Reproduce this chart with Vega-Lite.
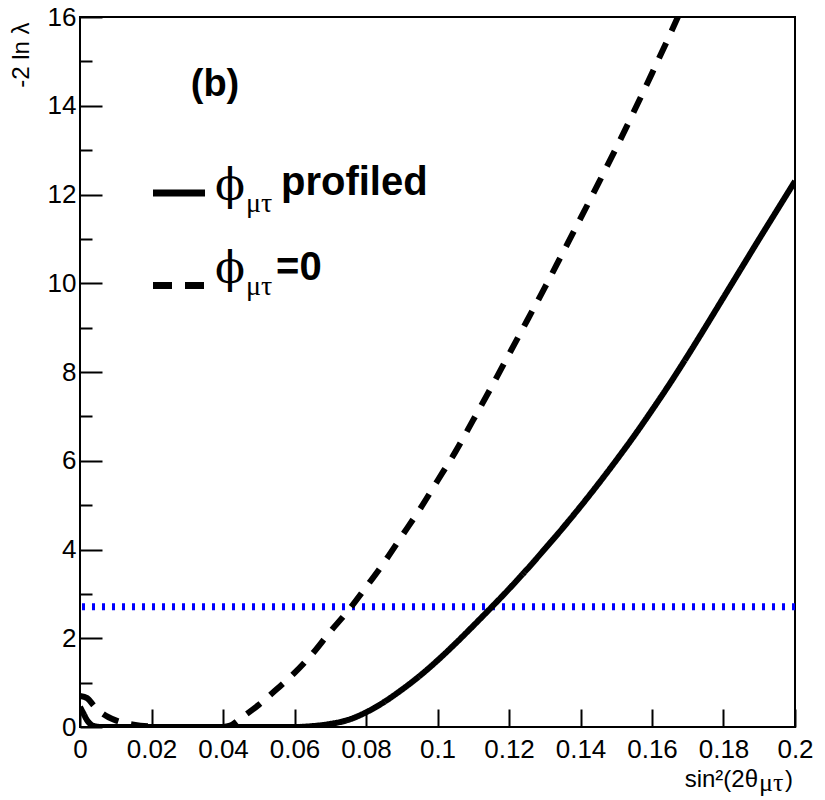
{
  "$schema": "https://vega.github.io/schema/vega-lite/v6.json",
  "width": 715,
  "height": 710,
  "autosize": "none",
  "padding": {"left": 80, "top": 17, "right": 30, "bottom": 73},
  "background": "white",
  "config": {
    "view": {"stroke": "black", "strokeWidth": 2},
    "font": "Liberation Sans",
    "axis": {"labelColor": "black", "tickColor": "black", "domain": false, "grid": false}
  },
  "datasets": {
    "one": [{}],
    "curves": [
      {"x": 0, "y": 0.45, "s": "profiled"},
      {"x": 0.001, "y": 0.3, "s": "profiled"},
      {"x": 0.002, "y": 0.15, "s": "profiled"},
      {"x": 0.003, "y": 0.06, "s": "profiled"},
      {"x": 0.004, "y": 0.02, "s": "profiled"},
      {"x": 0.006, "y": 0, "s": "profiled"},
      {"x": 0.01, "y": 0, "s": "profiled"},
      {"x": 0.02, "y": 0, "s": "profiled"},
      {"x": 0.03, "y": 0, "s": "profiled"},
      {"x": 0.04, "y": 0, "s": "profiled"},
      {"x": 0.05, "y": 0, "s": "profiled"},
      {"x": 0.06, "y": 0, "s": "profiled"},
      {"x": 0.065, "y": 0.02, "s": "profiled"},
      {"x": 0.07, "y": 0.07, "s": "profiled"},
      {"x": 0.075, "y": 0.16, "s": "profiled"},
      {"x": 0.08, "y": 0.33, "s": "profiled"},
      {"x": 0.085, "y": 0.56, "s": "profiled"},
      {"x": 0.09, "y": 0.84, "s": "profiled"},
      {"x": 0.095, "y": 1.15, "s": "profiled"},
      {"x": 0.1, "y": 1.5, "s": "profiled"},
      {"x": 0.105, "y": 1.88, "s": "profiled"},
      {"x": 0.11, "y": 2.28, "s": "profiled"},
      {"x": 0.115, "y": 2.69, "s": "profiled"},
      {"x": 0.12, "y": 3.11, "s": "profiled"},
      {"x": 0.125, "y": 3.55, "s": "profiled"},
      {"x": 0.13, "y": 4.01, "s": "profiled"},
      {"x": 0.135, "y": 4.48, "s": "profiled"},
      {"x": 0.14, "y": 4.97, "s": "profiled"},
      {"x": 0.145, "y": 5.48, "s": "profiled"},
      {"x": 0.15, "y": 6.01, "s": "profiled"},
      {"x": 0.155, "y": 6.56, "s": "profiled"},
      {"x": 0.16, "y": 7.14, "s": "profiled"},
      {"x": 0.165, "y": 7.74, "s": "profiled"},
      {"x": 0.17, "y": 8.37, "s": "profiled"},
      {"x": 0.175, "y": 9.02, "s": "profiled"},
      {"x": 0.18, "y": 9.68, "s": "profiled"},
      {"x": 0.185, "y": 10.34, "s": "profiled"},
      {"x": 0.19, "y": 11.0, "s": "profiled"},
      {"x": 0.195, "y": 11.65, "s": "profiled"},
      {"x": 0.2, "y": 12.3, "s": "profiled"},
      {"x": 0, "y": 0.7, "s": "fixed"},
      {"x": 0.002, "y": 0.65, "s": "fixed"},
      {"x": 0.004, "y": 0.47, "s": "fixed"},
      {"x": 0.006, "y": 0.32, "s": "fixed"},
      {"x": 0.008, "y": 0.22, "s": "fixed"},
      {"x": 0.01, "y": 0.15, "s": "fixed"},
      {"x": 0.012, "y": 0.1, "s": "fixed"},
      {"x": 0.015, "y": 0.05, "s": "fixed"},
      {"x": 0.02, "y": 0.01, "s": "fixed"},
      {"x": 0.025, "y": 0, "s": "fixed"},
      {"x": 0.03, "y": 0, "s": "fixed"},
      {"x": 0.035, "y": 0, "s": "fixed"},
      {"x": 0.04, "y": 0, "s": "fixed"},
      {"x": 0.042, "y": 0.03, "s": "fixed"},
      {"x": 0.045, "y": 0.2, "s": "fixed"},
      {"x": 0.05, "y": 0.5, "s": "fixed"},
      {"x": 0.055, "y": 0.85, "s": "fixed"},
      {"x": 0.06, "y": 1.22, "s": "fixed"},
      {"x": 0.065, "y": 1.65, "s": "fixed"},
      {"x": 0.07, "y": 2.15, "s": "fixed"},
      {"x": 0.075, "y": 2.62, "s": "fixed"},
      {"x": 0.08, "y": 3.15, "s": "fixed"},
      {"x": 0.085, "y": 3.7, "s": "fixed"},
      {"x": 0.09, "y": 4.3, "s": "fixed"},
      {"x": 0.095, "y": 4.9, "s": "fixed"},
      {"x": 0.1, "y": 5.55, "s": "fixed"},
      {"x": 0.105, "y": 6.2, "s": "fixed"},
      {"x": 0.11, "y": 6.92, "s": "fixed"},
      {"x": 0.115, "y": 7.65, "s": "fixed"},
      {"x": 0.12, "y": 8.4, "s": "fixed"},
      {"x": 0.125, "y": 9.15, "s": "fixed"},
      {"x": 0.13, "y": 9.9, "s": "fixed"},
      {"x": 0.135, "y": 10.68, "s": "fixed"},
      {"x": 0.14, "y": 11.46, "s": "fixed"},
      {"x": 0.145, "y": 12.25, "s": "fixed"},
      {"x": 0.15, "y": 13.05, "s": "fixed"},
      {"x": 0.155, "y": 13.88, "s": "fixed"},
      {"x": 0.16, "y": 14.73, "s": "fixed"},
      {"x": 0.165, "y": 15.6, "s": "fixed"},
      {"x": 0.17, "y": 16.5, "s": "fixed"}
    ]
  },
  "layer": [
    {
      "data": {"name": "one"},
      "mark": {"type": "rule", "color": "#0000ff", "strokeWidth": 7, "strokeDash": [3, 7]},
      "encoding": {
        "y": {"datum": 2.71, "type": "quantitative", "scale": {"domain": [0, 16], "nice": false, "zero": false}}
      }
    },
    {
      "data": {"name": "curves"},
      "mark": {"type": "line", "clip": true, "color": "black", "strokeWidth": 6, "interpolate": "monotone"},
      "encoding": {
        "x": {
          "field": "x", "type": "quantitative",
          "scale": {"domain": [0, 0.2], "nice": false, "zero": false},
          "axis": {
            "title": null,
            "values": [0,0.005,0.01,0.015,0.02,0.025,0.03,0.035,0.04,0.045,0.05,0.055,0.06,0.065,0.07,0.075,0.08,0.085,0.09,0.095,0.1,0.105,0.11,0.115,0.12,0.125,0.13,0.135,0.14,0.145,0.15,0.155,0.16,0.165,0.17,0.175,0.18,0.185,0.19,0.195,0.2],
            "tickSize": {"condition": {"test": "abs(datum.value*50 - round(datum.value*50)) < 1e-6", "value": -18}, "value": -9},
            "tickWidth": 2,
            "labelExpr": "abs(datum.value*50 - round(datum.value*50)) < 1e-6 ? format(datum.value, '~g') : ''",
            "labelFont": "Liberation Sans",
            "labelFontSize": 26,
            "labelPadding": 27,
            "labelOverlap": false,
            "labelFlush": false,
            "labelBound": false
          }
        },
        "y": {
          "field": "y", "type": "quantitative",
          "scale": {"domain": [0, 16], "nice": false, "zero": false},
          "axis": {
            "title": "-2 ln λ",
            "titleAnchor": "end",
            "titleY": 5,
            "titleFont": "Liberation Sans",
            "titleFontSize": 24,
            "titleFontWeight": "normal",
            "titleColor": "black",
            "titlePadding": 14,
            "values": [0,0.5,1,1.5,2,2.5,3,3.5,4,4.5,5,5.5,6,6.5,7,7.5,8,8.5,9,9.5,10,10.5,11,11.5,12,12.5,13,13.5,14,14.5,15,15.5,16],
            "tickSize": {"condition": {"test": "datum.value % 2 === 0", "value": -22}, "value": -12},
            "tickWidth": 2,
            "labelExpr": "datum.value % 2 === 0 ? '' + datum.value : ''",
            "labelFont": "Liberation Sans",
            "labelFontSize": 26,
            "labelPadding": 26,
            "labelOverlap": false,
            "labelFlush": false,
            "labelBound": false
          }
        },
        "strokeDash": {
          "field": "s", "type": "nominal",
          "scale": {"domain": ["profiled", "fixed"], "range": [[1, 0], [17, 13]]},
          "legend": null
        }
      }
    },
    {
      "data": {"name": "one"},
      "mark": {"type": "rule", "color": "black", "strokeWidth": 7},
      "encoding": {
        "x": {"datum": 0.02042, "type": "quantitative", "scale": {"domain": [0, 0.2], "nice": false, "zero": false}},
        "x2": {"datum": 0.03497},
        "y": {"datum": 12.034, "type": "quantitative", "scale": {"domain": [0, 16], "nice": false, "zero": false}}
      }
    },
    {
      "data": {"name": "one"},
      "mark": {"type": "rule", "color": "black", "strokeWidth": 7, "strokeDash": [19, 13]},
      "encoding": {
        "x": {"datum": 0.02042, "type": "quantitative", "scale": {"domain": [0, 0.2], "nice": false, "zero": false}},
        "x2": {"datum": 0.0347},
        "y": {"datum": 9.949, "type": "quantitative", "scale": {"domain": [0, 16], "nice": false, "zero": false}}
      }
    },
    {
      "data": {"name": "one"},
      "mark": {"type": "text", "text": "(b)", "font": "Liberation Sans", "fontWeight": "bold", "fontSize": 38, "align": "center", "baseline": "alphabetic", "color": "black"},
      "encoding": {
        "x": {"datum": 0.03776, "type": "quantitative", "scale": {"domain": [0, 0.2], "nice": false, "zero": false}},
        "y": {"datum": 14.22, "type": "quantitative", "scale": {"domain": [0, 16], "nice": false, "zero": false}}
      }
    },
    {
      "data": {"name": "one"},
      "mark": {"type": "text", "text": "ϕ", "font": "DejaVu Serif", "fontSize": 44, "align": "left", "baseline": "alphabetic", "color": "black"},
      "encoding": {
        "x": {"datum": 0.03776, "type": "quantitative", "scale": {"domain": [0, 0.2], "nice": false, "zero": false}},
        "y": {"datum": 11.876, "type": "quantitative", "scale": {"domain": [0, 16], "nice": false, "zero": false}}
      }
    },
    {
      "data": {"name": "one"},
      "mark": {"type": "text", "text": "μτ", "font": "Liberation Serif", "fontSize": 28, "align": "left", "baseline": "alphabetic", "color": "black"},
      "encoding": {
        "x": {"datum": 0.04643, "type": "quantitative", "scale": {"domain": [0, 0.2], "nice": false, "zero": false}},
        "y": {"datum": 11.606, "type": "quantitative", "scale": {"domain": [0, 16], "nice": false, "zero": false}}
      }
    },
    {
      "data": {"name": "one"},
      "mark": {"type": "text", "text": "profiled", "font": "Liberation Sans", "fontWeight": "bold", "fontSize": 40, "align": "left", "baseline": "alphabetic", "color": "black"},
      "encoding": {
        "x": {"datum": 0.05622, "type": "quantitative", "scale": {"domain": [0, 0.2], "nice": false, "zero": false}},
        "y": {"datum": 11.989, "type": "quantitative", "scale": {"domain": [0, 16], "nice": false, "zero": false}}
      }
    },
    {
      "data": {"name": "one"},
      "mark": {"type": "text", "text": "ϕ", "font": "DejaVu Serif", "fontSize": 44, "align": "left", "baseline": "alphabetic", "color": "black"},
      "encoding": {
        "x": {"datum": 0.03776, "type": "quantitative", "scale": {"domain": [0, 0.2], "nice": false, "zero": false}},
        "y": {"datum": 10.006, "type": "quantitative", "scale": {"domain": [0, 16], "nice": false, "zero": false}}
      }
    },
    {
      "data": {"name": "one"},
      "mark": {"type": "text", "text": "μτ", "font": "Liberation Serif", "fontSize": 28, "align": "left", "baseline": "alphabetic", "color": "black"},
      "encoding": {
        "x": {"datum": 0.04643, "type": "quantitative", "scale": {"domain": [0, 0.2], "nice": false, "zero": false}},
        "y": {"datum": 9.735, "type": "quantitative", "scale": {"domain": [0, 16], "nice": false, "zero": false}}
      }
    },
    {
      "data": {"name": "one"},
      "mark": {"type": "text", "text": "=0", "font": "Liberation Sans", "fontWeight": "bold", "fontSize": 40, "align": "left", "baseline": "alphabetic", "color": "black"},
      "encoding": {
        "x": {"datum": 0.05483, "type": "quantitative", "scale": {"domain": [0, 0.2], "nice": false, "zero": false}},
        "y": {"datum": 10.073, "type": "quantitative", "scale": {"domain": [0, 16], "nice": false, "zero": false}}
      }
    },
    {
      "data": {"name": "one"},
      "mark": {"type": "text", "text": "sin²(2θ", "font": "Liberation Sans", "fontSize": 24, "align": "right", "baseline": "alphabetic", "color": "black"},
      "encoding": {
        "x": {"datum": 0.18965, "type": "quantitative", "scale": {"domain": [0, 0.2], "nice": false, "zero": false}},
        "y": {"datum": -1.3521, "type": "quantitative", "scale": {"domain": [0, 16], "nice": false, "zero": false}}
      }
    },
    {
      "data": {"name": "one"},
      "mark": {"type": "text", "text": "μτ", "font": "Liberation Serif", "fontSize": 26, "align": "left", "baseline": "alphabetic", "color": "black"},
      "encoding": {
        "x": {"datum": 0.18993, "type": "quantitative", "scale": {"domain": [0, 0.2], "nice": false, "zero": false}},
        "y": {"datum": -1.4423, "type": "quantitative", "scale": {"domain": [0, 16], "nice": false, "zero": false}}
      }
    },
    {
      "data": {"name": "one"},
      "mark": {"type": "text", "text": ")", "font": "Liberation Sans", "fontSize": 24, "align": "left", "baseline": "alphabetic", "color": "black"},
      "encoding": {
        "x": {"datum": 0.1972, "type": "quantitative", "scale": {"domain": [0, 0.2], "nice": false, "zero": false}},
        "y": {"datum": -1.3521, "type": "quantitative", "scale": {"domain": [0, 16], "nice": false, "zero": false}}
      }
    }
  ]
}
